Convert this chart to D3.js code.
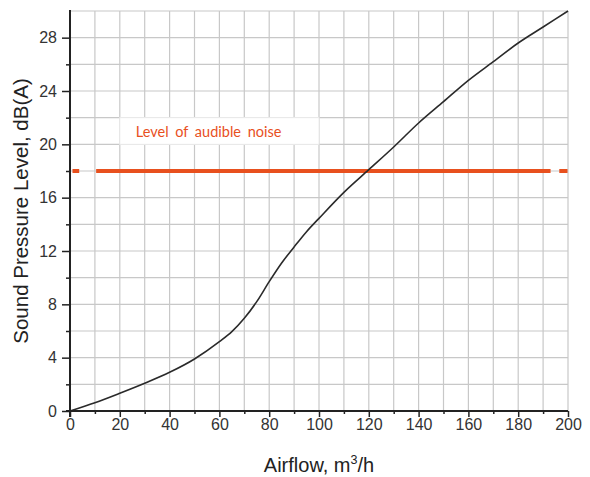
<!DOCTYPE html>
<html>
<head>
<meta charset="utf-8">
<script src="https://cdn.jsdelivr.net/npm/d3@7"></script>
<style>
  html, body { margin: 0; padding: 0; background: #fff; }
  svg { display: block; }
</style>
</head>
<body>
<svg id="chart" width="590" height="477"></svg>
<script>
// ---- data ----
const airflow = [0, 10, 20, 30, 40, 50, 60, 65, 70, 75, 80, 85, 90, 95, 100, 110, 120, 130, 140, 150, 160, 170, 180, 190, 200];
const soundLevel = [0, 0.62, 1.33, 2.08, 2.9, 3.9, 5.2, 5.95, 6.95, 8.2, 9.7, 11.1, 12.3, 13.45, 14.45, 16.4, 18.1, 19.8, 21.6, 23.2, 24.8, 26.2, 27.6, 28.8, 30];
const xTickValues = [0, 20, 40, 60, 80, 100, 120, 140, 160, 180, 200];
const xMinorTicks = [10, 30, 50, 70, 90, 110, 130, 150, 170, 190];
const yTickValues = [0, 4, 8, 12, 16, 20, 24, 28];
const yMinorTicks = [2, 6, 10, 14, 18, 22, 26];
const xGrid = [10, 20, 30, 40, 50, 60, 70, 80, 90, 100, 110, 120, 130, 140, 150, 160, 170, 180, 190, 200];
const yGrid = [2, 4, 6, 8, 10, 12, 14, 16, 18, 20, 22, 24, 26, 28, 30];
const noiseLevel = 18;
const noiseSegments = [[1, 3.7], [10.5, 193], [196.5, 199.8]];
const noiseLabel = "Level of audible noise";
const noiseBoxX = [20, 100];
const noiseBoxY = [20, 22];
const xTitle = "Airflow, m";
const xTitleSup = "3";
const xTitleEnd = "/h";
const yTitle = "Sound Pressure Level, dB(A)";

// ---- layout ----
const svg = d3.select("#chart");
const mLeft = 70, mRight = 568, mTop = 11, mBottom = 411;
const x = d3.scaleLinear().domain([0, 200]).range([mLeft, mRight]);
const y = d3.scaleLinear().domain([0, 30]).range([mBottom, mTop]);
const orange = "#e8501e";
const font = "'Liberation Sans', Arial, sans-serif";

// grid
const g = svg.append("g");
g.selectAll("line.vg").data(xGrid).join("line")
  .attr("x1", d => x(d)).attr("x2", d => x(d))
  .attr("y1", mTop).attr("y2", mBottom)
  .attr("stroke", "#c8c8c8").attr("stroke-width", 1.2);
g.selectAll("line.hg").data(yGrid).join("line")
  .attr("x1", mLeft).attr("x2", mRight)
  .attr("y1", d => y(d)).attr("y2", d => y(d))
  .attr("stroke", "#c8c8c8").attr("stroke-width", 1.2);

// noise label box
svg.append("rect")
  .attr("x", x(noiseBoxX[0])).attr("y", y(noiseBoxY[1]))
  .attr("width", x(noiseBoxX[1]) - x(noiseBoxX[0]))
  .attr("height", y(noiseBoxY[0]) - y(noiseBoxY[1]))
  .attr("fill", "#fff").attr("stroke", "#ececec").attr("stroke-width", 1);
svg.append("text")
  .attr("x", x(noiseBoxX[0]) + 16).attr("y", y(noiseBoxY[0]) - 7)
  .attr("fill", orange)
  .attr("font-family", "Lato, 'Open Sans', sans-serif")
  .attr("font-size", 14.5)
  .attr("word-spacing", 3)
  .text(noiseLabel);

// noise line
svg.selectAll("line.noise").data(noiseSegments).join("line")
  .attr("x1", d => x(d[0])).attr("x2", d => x(d[1]))
  .attr("y1", y(noiseLevel)).attr("y2", y(noiseLevel))
  .attr("stroke", orange).attr("stroke-width", 4);

// curve
const pts = airflow.map((a, i) => [a, soundLevel[i]]);
svg.append("path")
  .datum(pts)
  .attr("fill", "none")
  .attr("stroke", "#2a2a2a")
  .attr("stroke-width", 1.6)
  .attr("d", d3.line().x(d => x(d[0])).y(d => y(d[1])).curve(d3.curveMonotoneX));

// axes
const xAxis = svg.append("g").attr("transform", `translate(0,${mBottom})`)
  .call(d3.axisBottom(x).tickValues(xTickValues).tickSize(6).tickPadding(2).tickFormat(d3.format("d")));
xAxis.select(".domain").attr("stroke", "#222").attr("stroke-width", 2).attr("d", `M${mLeft - 4},0H${mRight}`);
xAxis.selectAll(".tick line").attr("stroke", "#222").attr("stroke-width", 1.5);
xAxis.selectAll("text").attr("font-family", font).attr("font-size", 16).attr("fill", "#333");
svg.append("g").attr("transform", `translate(0,${mBottom})`)
  .call(d3.axisBottom(x).tickValues(xMinorTicks).tickSize(3).tickFormat(""))
  .call(s => s.select(".domain").remove())
  .selectAll(".tick line").attr("stroke", "#222").attr("stroke-width", 1.5);

const yAxis = svg.append("g").attr("transform", `translate(${mLeft},0)`)
  .call(d3.axisLeft(y).tickValues(yTickValues).tickSize(8).tickPadding(5).tickFormat(d3.format("d")));
yAxis.select(".domain").attr("stroke", "#222").attr("stroke-width", 2).attr("d", `M0,${mBottom + 6}V${mTop - 1}`);
yAxis.selectAll(".tick line").attr("stroke", "#222").attr("stroke-width", 1.5);
yAxis.selectAll("text").attr("font-family", font).attr("font-size", 16).attr("fill", "#333");
svg.append("g").attr("transform", `translate(${mLeft},0)`)
  .call(d3.axisLeft(y).tickValues(yMinorTicks).tickSize(4).tickFormat(""))
  .call(s => s.select(".domain").remove())
  .selectAll(".tick line").attr("stroke", "#222").attr("stroke-width", 1.5);

// titles
const xt = svg.append("text")
  .attr("x", (mLeft + mRight) / 2).attr("y", 472)
  .attr("text-anchor", "middle")
  .attr("font-family", font).attr("font-size", 20).attr("fill", "#222");
xt.append("tspan").text(xTitle);
xt.append("tspan").attr("dy", -8).attr("font-size", 12.5).text(xTitleSup);
xt.append("tspan").attr("dy", 8).text(xTitleEnd);

svg.append("text")
  .attr("transform", `translate(28,${(mTop + mBottom) / 2}) rotate(-90)`)
  .attr("text-anchor", "middle")
  .attr("font-family", font).attr("font-size", 20.5).attr("fill", "#222")
  .text(yTitle);
</script>
</body>
</html>
